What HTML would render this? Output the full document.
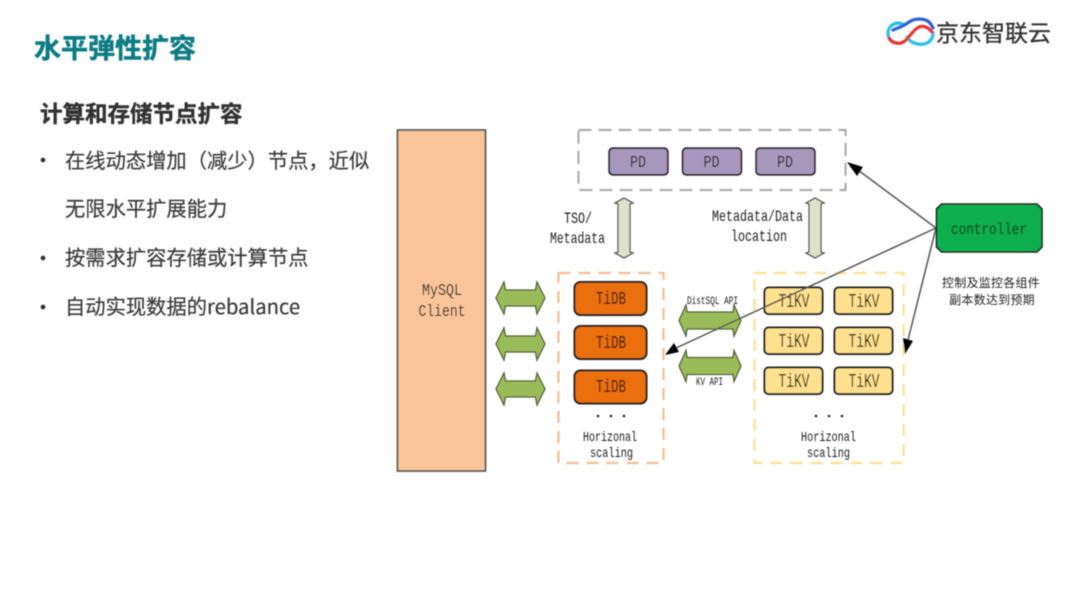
<!DOCTYPE html>
<html><head><meta charset="utf-8"><style>
html,body{margin:0;padding:0;background:#fff;width:1080px;height:608px;overflow:hidden}
svg{display:block}
.cjk{font-family:"Liberation Sans","Noto Sans CJK SC",sans-serif}
.noto{font-family:"Noto Sans CJK SC",sans-serif}
.m{font-family:"Liberation Mono",monospace;fill:#1f1f1f;text-anchor:middle}
</style></head><body>
<svg width="1080" height="608" viewBox="0 0 1080 608" xmlns="http://www.w3.org/2000/svg">
<defs>
<filter id="b" x="-5%" y="-5%" width="110%" height="110%"><feGaussianBlur stdDeviation="0.4"/></filter>
<path id="h" d="M0 16 L8 0 L9.500 8 L39.500 8 L41 0 L49 16 L41 32 L39.500 24 L9.500 24 L8 32 Z" fill="#9BBB59" stroke="#4f5f38" stroke-width="1.300"/>
<path id="w" d="M0 15.500 L7 0 L8 7 L54 7 L55 0 L62 15.500 L55 31 L54 24 L8 24 L7 31 Z" fill="#9BBB59" stroke="#4f5f38" stroke-width="1.300"/>
<path id="v" d="M9 0 L18 5 L15 6 L15 54 L18 55 L9 60 L0 55 L3 54 L3 6 L0 5 Z" fill="#DDE2CB" stroke="#555" stroke-width="1.300"/>
</defs>
<g filter="url(#b)">
<text x="34" y="58" class="cjk" font-size="27" font-weight="700" fill="#117B84" stroke="#117B84" stroke-width="0.5">水平弹性扩容</text>
<text x="40" y="122" class="cjk" font-size="22.500" font-weight="700" fill="#333" stroke="#333" stroke-width="0.4">计算和存储节点扩容</text>
<g class="noto" font-size="20.300" fill="#3a3a3a" stroke="#3a3a3a" stroke-width="0.2">
<circle cx="43" cy="160" r="2.300" fill="#333"/>
<text x="65" y="168">在线动态增加（减少）节点，近似</text>
<text x="65" y="216">无限水平扩展能力</text>
<circle cx="43" cy="258" r="2.300" fill="#333"/>
<text x="65" y="265">按需求扩容存储或计算节点</text>
<circle cx="43" cy="307" r="2.300" fill="#333"/>
<text x="65" y="314">自动实现数据的rebalance</text>
</g>

<!-- logo -->
<g fill="none" stroke-linecap="round">
<path d="M904 25 C896 20 888 26 888 33 C888 36 889 38 890 39" stroke="#2AC4E6" stroke-width="3.400"/>
<path d="M907 37 C910 43 918 45 924 44 C930 43 933 38 933 33" stroke="#2AC4E6" stroke-width="3.400"/>
<path d="M893 30 C898 28 904 26 909 22 C915 18 924 18 929 22 C931 24 932 26 933 28" stroke="#2F5FE0" stroke-width="3.200"/>
<path d="M889 38 C892 44 901 45 906 40 C911 35 913 30 919 27 C924 25 929 28 932 32" stroke="#E8342F" stroke-width="3.200"/>
</g>
<text x="936" y="41" class="cjk" font-size="23" fill="#333" stroke="#333" stroke-width="0.3">京东智联云</text>

<!-- MySQL -->
<rect x="397.500" y="130" width="88" height="341" fill="#F9C49A" stroke="#5d5a56" stroke-width="1.800"/>
<text x="442" y="295" class="m" font-size="17" textLength="40" lengthAdjust="spacingAndGlyphs">MySQL</text>
<text x="442" y="316" class="m" font-size="17" textLength="47" lengthAdjust="spacingAndGlyphs">Client</text>

<!-- PD group -->
<rect x="578.500" y="130" width="267" height="60" fill="#fff" stroke="#aaa" stroke-width="2.200" stroke-dasharray="13 7"/>
<g fill="#A797BD" stroke="#222" stroke-width="2">
<rect x="609" y="148" width="59" height="27" rx="4"/>
<rect x="682.500" y="148" width="59" height="27" rx="4"/>
<rect x="756" y="148" width="59" height="27" rx="4"/>
</g>
<g class="m" font-size="17">
<text x="638" y="167" textLength="16" lengthAdjust="spacingAndGlyphs">PD</text>
<text x="711.500" y="167" textLength="16" lengthAdjust="spacingAndGlyphs">PD</text>
<text x="785" y="167" textLength="16" lengthAdjust="spacingAndGlyphs">PD</text>
</g>

<!-- vertical arrows -->
<use href="#v" x="615" y="198"/>
<use href="#v" x="806" y="198"/>
<text x="578" y="223" class="m" font-size="16" textLength="28" lengthAdjust="spacingAndGlyphs">TSO/</text>
<text x="577.500" y="243" class="m" font-size="16" textLength="55" lengthAdjust="spacingAndGlyphs">Metadata</text>
<text x="757.500" y="221" class="m" font-size="16" textLength="91" lengthAdjust="spacingAndGlyphs">Metadata/Data</text>
<text x="759" y="241" class="m" font-size="16" textLength="56" lengthAdjust="spacingAndGlyphs">location</text>

<!-- client arrows -->
<use href="#h" x="496" y="282"/>
<use href="#h" x="496" y="328"/>
<use href="#h" x="496" y="373"/>

<!-- TiDB group -->
<rect x="558.500" y="273" width="105" height="190" fill="none" stroke="#F9BE92" stroke-width="2.200" stroke-dasharray="12 8"/>
<g fill="#EB700E" stroke="#222" stroke-width="2">
<rect x="574.500" y="282" width="72" height="33" rx="6"/>
<rect x="574.500" y="326" width="72" height="33" rx="6"/>
<rect x="574.500" y="370.500" width="72" height="33" rx="6"/>
</g>
<g class="m" font-size="18" style="fill:#111">
<text x="611" y="304" textLength="30" lengthAdjust="spacingAndGlyphs">TiDB</text>
<text x="611" y="348" textLength="30" lengthAdjust="spacingAndGlyphs">TiDB</text>
<text x="611" y="392" textLength="30" lengthAdjust="spacingAndGlyphs">TiDB</text>
</g>
<g fill="#222"><circle cx="598" cy="416" r="1.300"/><circle cx="611" cy="416" r="1.300"/><circle cx="624" cy="416" r="1.300"/>
<circle cx="816" cy="416" r="1.300"/><circle cx="829" cy="416" r="1.300"/><circle cx="842" cy="416" r="1.300"/></g>
<text x="610" y="441" class="m" font-size="14" textLength="54" lengthAdjust="spacingAndGlyphs">Horizonal</text>
<text x="611.500" y="457" class="m" font-size="14" textLength="43" lengthAdjust="spacingAndGlyphs">scaling</text>

<!-- API arrows -->
<use href="#w" x="679" y="305"/>
<use href="#w" x="679" y="350.500"/>
<text x="712.500" y="304" class="m" font-size="11" textLength="51" lengthAdjust="spacingAndGlyphs">DistSQL API</text>
<text x="709.500" y="385" class="m" font-size="11" textLength="27" lengthAdjust="spacingAndGlyphs">KV API</text>

<!-- TiKV group -->
<rect x="754.500" y="273" width="149" height="190" fill="none" stroke="#FFE08F" stroke-width="2.200" stroke-dasharray="12 8"/>
<g fill="#FFE08F" stroke="#222" stroke-width="2">
<rect x="764.500" y="287.500" width="58" height="26.500" rx="4"/>
<rect x="834.500" y="287.500" width="58" height="26.500" rx="4"/>
<rect x="764.500" y="327.500" width="58" height="26.500" rx="4"/>
<rect x="834.500" y="327.500" width="58" height="26.500" rx="4"/>
<rect x="764.500" y="367.500" width="58" height="26.500" rx="4"/>
<rect x="834.500" y="367.500" width="58" height="26.500" rx="4"/>
</g>
<g class="m" font-size="19" style="fill:#111">
<text x="794" y="307" textLength="31" lengthAdjust="spacingAndGlyphs">TiKV</text>
<text x="864" y="307" textLength="31" lengthAdjust="spacingAndGlyphs">TiKV</text>
<text x="794" y="347" textLength="31" lengthAdjust="spacingAndGlyphs">TiKV</text>
<text x="864" y="347" textLength="31" lengthAdjust="spacingAndGlyphs">TiKV</text>
<text x="794" y="387" textLength="31" lengthAdjust="spacingAndGlyphs">TiKV</text>
<text x="864" y="387" textLength="31" lengthAdjust="spacingAndGlyphs">TiKV</text>
</g>
<text x="828.500" y="441" class="m" font-size="14" textLength="55" lengthAdjust="spacingAndGlyphs">Horizonal</text>
<text x="828.500" y="457" class="m" font-size="14" textLength="43" lengthAdjust="spacingAndGlyphs">scaling</text>

<!-- controller lines -->
<g stroke="#555" stroke-width="1.500" fill="none">
<line x1="936" y1="228" x2="858" y2="170"/>
<line x1="936" y1="228" x2="676" y2="348"/>
<line x1="936" y1="228" x2="908" y2="340"/>
</g>
<path d="M847 162 L863 167 L857 176 Z" fill="#000"/>
<path d="M665 355 L674 343 L679 352 Z" fill="#000"/>
<path d="M905 354 L903 338 L913 341 Z" fill="#000"/>

<!-- controller -->
<path d="M941.500 204 H1037 L1042 209 V247 L1037 252 H941.500 L936.500 247 V209 Z" fill="#0BAE4E" stroke="#222" stroke-width="1.600"/>
<text x="989" y="234" class="m" font-size="16" textLength="76" lengthAdjust="spacingAndGlyphs" style="fill:#0a2a18">controller</text>
<text x="991" y="287" class="cjk" font-size="12" fill="#222" text-anchor="middle" letter-spacing="0.250">控制及监控各组件</text>
<text x="992" y="304" class="cjk" font-size="12" fill="#222" text-anchor="middle" letter-spacing="0.250">副本数达到预期</text>
</g>
</svg>
</body></html>
